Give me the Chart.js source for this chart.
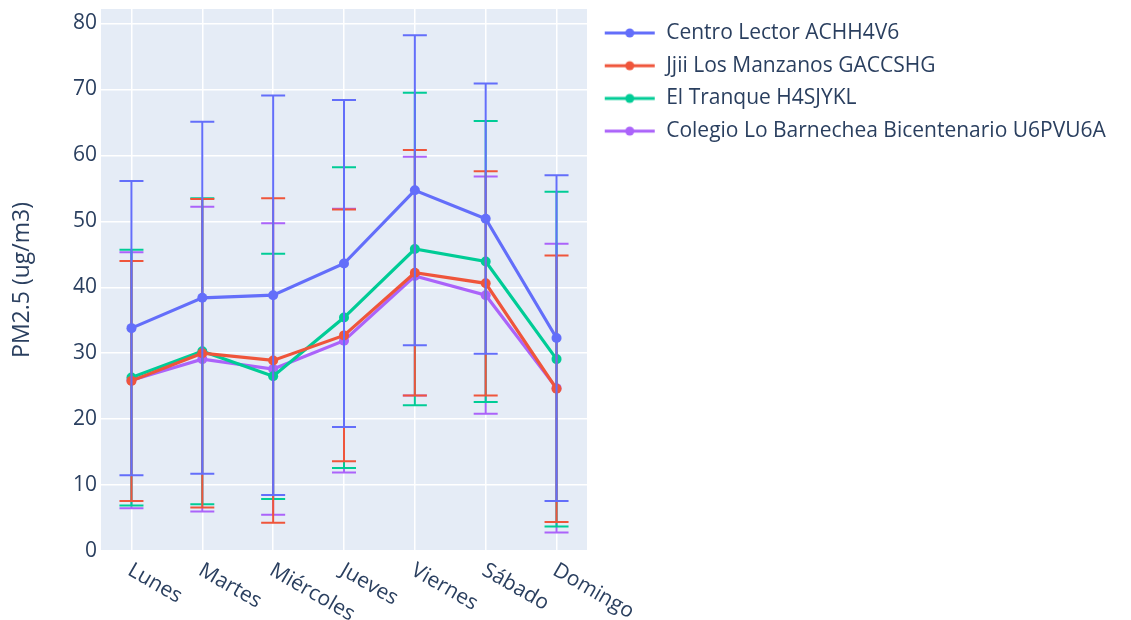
<!DOCTYPE html>
<html>
<head>
<meta charset="utf-8">
<script src="https://cdn.jsdelivr.net/npm/chart.js@4.4.1/dist/chart.umd.min.js"></script>
<style>
  html, body { margin: 0; padding: 0; background: #fff; }
  #wrap { width: 1131px; height: 620px; }
</style>
</head>
<body>
<div id="wrap"><canvas id="pmChart" width="1131" height="620"></canvas></div>
<script>
// datos
const days = ['Lunes', 'Martes', 'Miércoles', 'Jueves', 'Viernes', 'Sábado', 'Domingo'];
const seriesNames = ['Centro Lector ACHH4V6', 'Jjii Los Manzanos GACCSHG', 'El Tranque H4SJYKL', 'Colegio Lo Barnechea Bicentenario U6PVU6A'];
const centroLector = [33.8, 38.4, 38.8, 43.6, 54.7, 50.4, 32.3];
const centroLectorSd = [22.3, 26.7, 30.3, 24.8, 23.5, 20.5, 24.7];
const jjiiManzanos = [25.8, 30.0, 28.9, 32.7, 42.2, 40.6, 24.6];
const jjiiManzanosSd = [18.2, 23.4, 24.6, 19.1, 18.6, 17.0, 20.2];
const elTranque = [26.3, 30.3, 26.5, 35.4, 45.8, 43.9, 29.1];
const elTranqueSd = [19.4, 23.2, 18.6, 22.8, 23.7, 21.3, 25.4];
const colegio = [25.9, 29.1, 27.6, 31.9, 41.7, 38.8, 24.7];
const colegioSd = [19.4, 23.1, 22.1, 20.0, 18.1, 18.0, 21.9];
const yTicks = [0, 10, 20, 30, 40, 50, 60, 70, 80];

const colors = ['#636efa', '#EF553B', '#00cc96', '#ab63fa'];
const means = [centroLector, jjiiManzanos, elTranque, colegio];
const sds = [centroLectorSd, jjiiManzanosSd, elTranqueSd, colegioSd];
const textColor = '#2a3f5f';
const FONT = '"Open Sans", "Noto Sans", sans-serif';
const legFont = 21;

// iconos de la leyenda (linea con punto)
function legendIcon(color) {
    const c = document.createElement('canvas');
    c.width = 57; c.height = 14;
    const g = c.getContext('2d');
    g.strokeStyle = color; g.lineWidth = 3;
    g.beginPath(); g.moveTo(6, 7); g.lineTo(56, 7); g.stroke();
    g.fillStyle = color;
    g.beginPath(); g.arc(31, 7, 4.5, 0, Math.PI * 2); g.fill();
    return c;
}
const icons = colors.map(legendIcon);

// ancho del texto mas largo de la leyenda
const mctx = document.createElement('canvas').getContext('2d');
mctx.font = legFont + 'px ' + FONT;
const maxText = Math.max(...seriesNames.map(n => mctx.measureText(n).width));
const legPad = 11.7;
const legendWidth = legPad + 57 + legFont / 2 + maxText + 10;
const padRight = Math.max(0, 1131 - 587 - legendWidth);

const plotBg = {
    id: 'plotBg',
    beforeDraw(chart) {
        const a = chart.chartArea;
        chart.ctx.save();
        chart.ctx.fillStyle = '#E5ECF6';
        chart.ctx.fillRect(a.left, a.top, a.right - a.left, a.bottom - a.top);
        chart.ctx.restore();
    }
};

const errorBars = {
    id: 'errorBars',
    beforeDatasetDraw(chart, args) {
        const i = args.index;
        const meta = args.meta;
        const ys = chart.scales.y;
        const ctx = chart.ctx;
        ctx.save();
        ctx.strokeStyle = colors[i];
        ctx.lineWidth = 2;
        meta.data.forEach((pt, j) => {
            const top = ys.getPixelForValue(means[i][j] + sds[i][j]);
            const bot = ys.getPixelForValue(means[i][j] - sds[i][j]);
            ctx.beginPath();
            ctx.moveTo(pt.x, top); ctx.lineTo(pt.x, bot);
            ctx.moveTo(pt.x - 12, top); ctx.lineTo(pt.x + 12, top);
            ctx.moveTo(pt.x - 12, bot); ctx.lineTo(pt.x + 12, bot);
            ctx.stroke();
        });
        ctx.restore();
    }
};

// etiquetas del eje x giradas hacia abajo
const xLabels = {
    id: 'xLabels',
    afterDraw(chart) {
        const xs = chart.scales.x;
        const ctx = chart.ctx;
        ctx.save();
        ctx.font = '21px ' + FONT;
        ctx.fillStyle = textColor;
        ctx.textAlign = 'left';
        ctx.textBaseline = 'alphabetic';
        days.forEach((d, i) => {
            const x = xs.getPixelForValue(i);
            ctx.save();
            ctx.translate(x - 5, chart.chartArea.bottom + 23);
            ctx.rotate(Math.PI / 6);
            ctx.fillText(d, 0, 0);
            ctx.restore();
        });
        ctx.restore();
    }
};

new Chart(document.getElementById('pmChart').getContext('2d'), {
    type: 'line',
    data: {
        datasets: seriesNames.map((name, i) => ({
            label: name,
            data: means[i].map((v, j) => ({ x: j, y: v })),
            borderColor: colors[i],
            backgroundColor: colors[i],
            pointBackgroundColor: colors[i],
            pointBorderWidth: 0,
            pointRadius: 5,
            borderWidth: 3.2,
            tension: 0,
            fill: false
        }))
    },
    options: {
        responsive: false,
        animation: false,
        events: [],
        layout: { padding: { top: 9, bottom: 69, left: 0, right: padRight } },
        plugins: {
            tooltip: { enabled: false },
            legend: {
                position: 'right',
                align: 'start',
                maxWidth: 560,
                title: { display: true, text: '', font: { size: 1, lineHeight: 1 }, padding: 0.4 },
                labels: {
                    usePointStyle: true,
                    pointStyleWidth: 57,
                    padding: legPad,
                    color: textColor,
                    font: { family: FONT, size: legFont },
                    generateLabels(chart) {
                        return chart.data.datasets.map((ds, i) => ({
                            text: ds.label,
                            pointStyle: icons[i],
                            fillStyle: colors[i],
                            strokeStyle: colors[i],
                            lineWidth: 0,
                            hidden: false,
                            datasetIndex: i,
                            fontColor: textColor
                        }));
                    }
                }
            }
        },
        scales: {
            x: {
                type: 'linear',
                min: -0.43,
                max: 6.43,
                ticks: { display: false, stepSize: 1, includeBounds: false },
                grid: { color: '#ffffff', lineWidth: 1.5, drawTicks: false },
                border: { display: false },
                afterFit(scale) { scale.height = 0; }
            },
            y: {
                min: 0,
                max: 82.2,
                ticks: {
                    stepSize: 10,
                    includeBounds: false,
                    padding: 4,
                    color: textColor,
                    font: { family: FONT, size: 21 },
                    callback: v => yTicks.includes(v) ? String(v) : ''
                },
                grid: { color: '#ffffff', lineWidth: 1.5, drawTicks: false },
                border: { display: false },
                title: {
                    display: true,
                    text: 'PM2.5 (ug/m3)',
                    color: textColor,
                    font: { family: FONT, size: 23 },
                    padding: { top: 9, bottom: 0 }
                },
                afterFit(scale) {
                    scale.width = 101;
                    scale.paddingTop = 0;
                    scale.paddingBottom = 0;
                }
            }
        }
    },
    plugins: [plotBg, errorBars, xLabels]
});
</script>
</body>
</html>
